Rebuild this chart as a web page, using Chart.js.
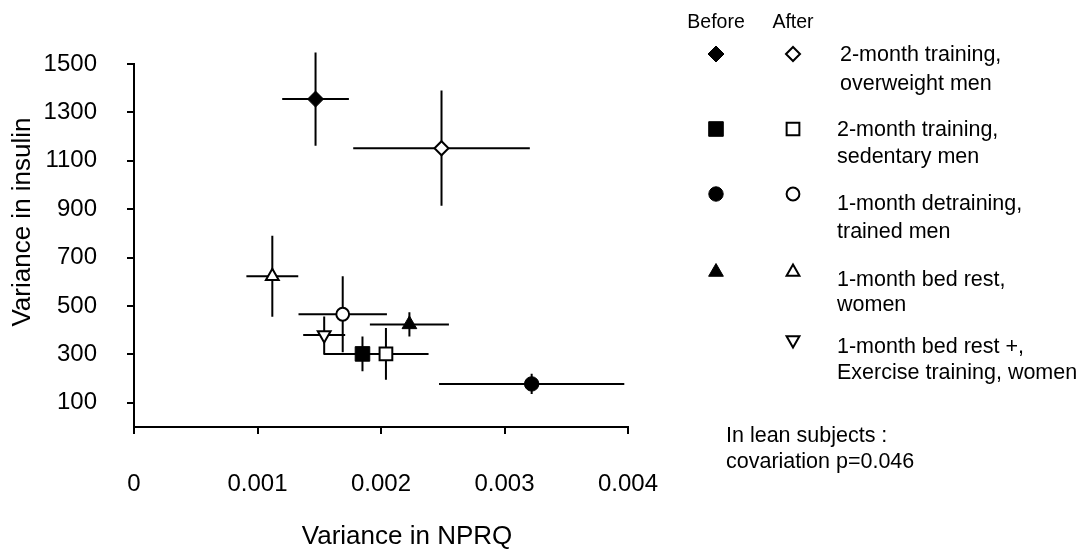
<!DOCTYPE html>
<html>
<head>
<meta charset="utf-8">
<script src="https://cdn.jsdelivr.net/npm/chart.js@4/dist/chart.umd.min.js"></script>
<style>
  html, body { margin: 0; padding: 0; background: #fff; }
  canvas { display: block; }
</style>
</head>
<body>
<canvas id="chart" width="1083" height="551"></canvas>
<script>
// Study groups, in legend order (each label is split over two lines)
const groupLines = [
  ['2-month training,', 'overweight men'],
  ['2-month training,', 'sedentary men'],
  ['1-month detraining,', 'trained men'],
  ['1-month bed rest,', 'women'],
  ['1-month bed rest +,', 'Exercise training, women']
];

// Before the intervention: variance in NPRQ (x), variance in insulin (y), and error half-widths
const beforeNprq       = [0.00147, 0.00185, 0.00322, 0.00223, null];
const beforeNprqErr    = [0.00027, 0.000316, 0.00075, 0.00032, null];
const beforeInsulin    = [1355, 302, 178, 424, null];
const beforeInsulinErr = [193, 72, 42, 50, null];

// After the intervention
const afterNprq       = [0.00249, 0.00204, 0.00169, 0.00112, 0.00154];
const afterNprqErr    = [0.000715, 0.000345, 0.000358, 0.00021, 0.00017];
const afterInsulin    = [1152, 302, 466, 623, 380];
const afterInsulinErr = [238, 107, 157, 167, 77];

// Axis ticks
const xTicks = [0, 0.001, 0.002, 0.003, 0.004];
const xTickLabels = ['0', '0.001', '0.002', '0.003', '0.004'];
const yTicks = [100, 300, 500, 700, 900, 1100, 1300, 1500];
const yTickLabels = ['100', '300', '500', '700', '900', '1100', '1300', '1500'];

// Marker shape per group
const markerShapes   = ['rectRot', 'rect', 'circle', 'triangle', 'triangle'];
const markerRotation = [0, 0, 0, 0, 180];
const filledRadius   = [8, 10.3, 7.2, 8.5, 8.5];
const openRadius     = [7, 9, 6.4, 7.4, 7.4];

const FONT = "'Liberation Sans', Arial, Helvetica, sans-serif";
Chart.defaults.font.family = FONT;
Chart.defaults.color = '#000';

function makeDataset(g, phase) {
  const filled = phase === 'before';
  const xs = filled ? beforeNprq : afterNprq;
  const xe = filled ? beforeNprqErr : afterNprqErr;
  const ys = filled ? beforeInsulin : afterInsulin;
  const ye = filled ? beforeInsulinErr : afterInsulinErr;
  if (xs[g] === null) return null;
  return {
    label: groupLines[g].join(' ') + ' (' + phase + ')',
    group: g,
    phase: phase,
    data: [{ x: xs[g], y: ys[g], xErr: xe[g], yErr: ye[g] }],
    pointStyle: markerShapes[g],
    rotation: markerRotation[g],
    pointRadius: filled ? filledRadius[g] : openRadius[g],
    backgroundColor: filled ? '#000' : '#fff',
    borderColor: '#000',
    borderWidth: filled ? 1 : 2,
    showLine: false,
    clip: false
  };
}

const datasets = [];
for (let g = 0; g < groupLines.length; g++) {
  ['before', 'after'].forEach(p => {
    const ds = makeDataset(g, p);
    if (ds) datasets.push(ds);
  });
}

// Horizontal and vertical error bars, drawn under the markers
const errorBars = {
  id: 'errorBars',
  beforeDatasetsDraw(chart) {
    const { ctx, scales: { x, y } } = chart;
    ctx.save();
    ctx.strokeStyle = '#000';
    ctx.lineWidth = 2;
    chart.data.datasets.forEach(ds => ds.data.forEach(p => {
      const px = x.getPixelForValue(p.x);
      const py = y.getPixelForValue(p.y);
      ctx.beginPath();
      ctx.moveTo(x.getPixelForValue(p.x - p.xErr), py);
      ctx.lineTo(x.getPixelForValue(p.x + p.xErr), py);
      ctx.moveTo(px, y.getPixelForValue(p.y + p.yErr));
      ctx.lineTo(px, y.getPixelForValue(p.y - p.yErr));
      ctx.stroke();
    }));
    ctx.restore();
  }
};

function drawMarker(ctx, ds, x, y, radius) {
  ctx.save();
  ctx.fillStyle = ds.backgroundColor;
  ctx.strokeStyle = ds.borderColor;
  ctx.lineWidth = ds.borderWidth;
  const opts = { pointStyle: ds.pointStyle, radius: radius, rotation: ds.rotation, borderWidth: ds.borderWidth };
  if (Chart.helpers && Chart.helpers.drawPoint) {
    Chart.helpers.drawPoint(ctx, opts, x, y);
  }
  ctx.restore();
}

// Axis titles, side legend and note
const annotations = {
  id: 'annotations',
  afterDraw(chart) {
    const ctx = chart.ctx;
    ctx.save();
    ctx.fillStyle = '#000';
    ctx.textBaseline = 'middle';

    // axis titles
    ctx.font = '26px ' + FONT;
    ctx.textAlign = 'center';
    ctx.fillText('Variance in NPRQ', 407, 537);
    ctx.save();
    ctx.translate(23, 222);
    ctx.rotate(-Math.PI / 2);
    ctx.fillText('Variance in insulin', 0, 0);
    ctx.restore();

    // legend column headers
    const colBefore = 716, colAfter = 793;
    ctx.font = '19.5px ' + FONT;
    ctx.fillText('Before', colBefore, 23);
    ctx.fillText('After', colAfter, 23);

    // legend rows
    const markerY = [54, 129, 194, 272, 340];
    const textY = [[55, 84], [130, 157], [204, 232], [280, 305], [347, 373]];
    const textX = [840, 837, 837, 837, 837];
    chart.data.datasets.forEach(ds => {
      const cx = ds.phase === 'before' ? colBefore : colAfter;
      drawMarker(ctx, ds, cx, markerY[ds.group], ds.pointRadius);
    });
    ctx.font = '21.5px ' + FONT;
    ctx.textAlign = 'left';
    groupLines.forEach((lines, g) => {
      lines.forEach((t, k) => ctx.fillText(t, textX[g], textY[g][k]));
    });

    // note
    ctx.fillText('In lean subjects :', 726, 436);
    ctx.fillText('covariation p=0.046', 726, 462);
    ctx.restore();
  }
};

new Chart(document.getElementById('chart'), {
  type: 'scatter',
  data: { datasets: datasets },
  options: {
    responsive: false,
    animation: false,
    devicePixelRatio: 1,
    events: [],
    layout: { padding: { top: 64, right: 455, bottom: 0, left: 0 } },
    plugins: {
      legend: { display: false },
      tooltip: { enabled: false },
      title: { display: false }
    },
    scales: {
      x: {
        type: 'linear',
        position: 'bottom',
        min: 0,
        max: 0.004,
        afterBuildTicks: s => { s.ticks = xTicks.map(v => ({ value: v })); },
        afterFit: s => { s.height = 124; },
        ticks: {
          callback: (v, i) => xTickLabels[i],
          font: { size: 24, family: FONT },
          color: '#000',
          padding: 36,
          maxRotation: 0,
          autoSkip: false
        },
        grid: { drawOnChartArea: false, drawTicks: true, tickLength: 7, color: '#000', lineWidth: 2 },
        border: { display: true, color: '#000', width: 2 },
        title: { display: false }
      },
      y: {
        type: 'linear',
        position: 'left',
        min: 0,
        max: 1500,
        afterBuildTicks: s => { s.ticks = yTicks.map(v => ({ value: v })); },
        afterFit: s => { s.width = 134; },
        ticks: {
          callback: (v, i) => yTickLabels[i],
          font: { size: 24, family: FONT },
          color: '#000',
          padding: 30,
          autoSkip: false
        },
        grid: { drawOnChartArea: false, drawTicks: true, tickLength: 7, color: '#000', lineWidth: 2 },
        border: { display: true, color: '#000', width: 2 },
        title: { display: false }
      }
    }
  },
  plugins: [errorBars, annotations]
});
</script>
</body>
</html>
